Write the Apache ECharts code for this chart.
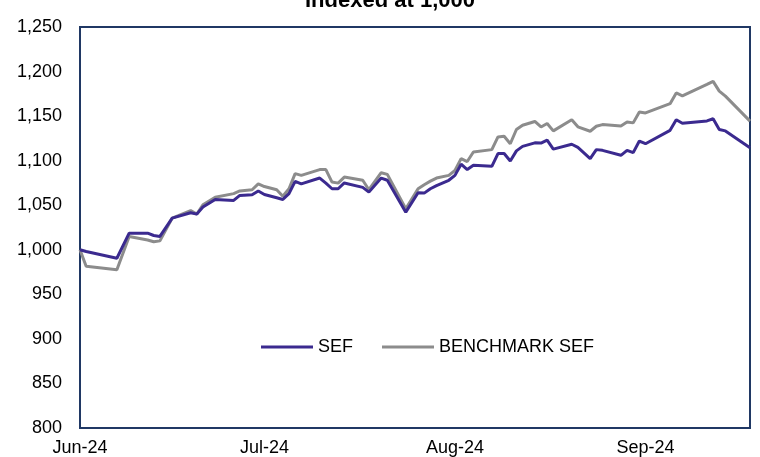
<!DOCTYPE html>
<html>
<head>
<meta charset="utf-8">
<script src="https://cdn.jsdelivr.net/npm/echarts@6/dist/echarts.min.js"></script>
<style>html,body{margin:0;padding:0;background:#fff}#c{width:760px;height:457px}</style>
</head>
<body>
<div id="c"></div>
<script>
// Days since 3 Jun 2024 (x positions of data points)
var dayOffsets = [0,1,6,8,11,12,13,15,18,19,20,22,25,26,28,29,30,32,33,34,35,36,39,40,41,42,43,46,47,49,50,53,55,56,57,58,60,61,62,63,64,67,68,69,70,71,72,74,75,76,77,80,81,83,84,85,88,89,90,91,92,96,97,98,102,103,104,105,109];
var sef = [1000,998,990.5,1018.6,1018.6,1016,1015,1035.5,1041.5,1040,1048,1056.5,1055.4,1061,1061.8,1066,1062,1058.4,1056.5,1063,1076.8,1074,1080.5,1074.8,1068.5,1068.5,1075,1070,1064.7,1080.5,1078,1042.2,1064,1063.6,1068.5,1072,1078,1083.5,1096,1090,1094.8,1093.6,1108,1108,1099.6,1111,1116,1120,1119.8,1123,1113,1118.4,1115,1102.3,1112.4,1111.6,1106,1111.6,1109,1122,1119,1134,1146,1142,1144.6,1147,1135,1133.4,1114.6];
var benchmarkSef = [1000,981.5,977.7,1015,1011,1009,1010,1035.5,1044,1040,1050.5,1059,1063,1066,1067.4,1074,1071,1067.4,1060,1068.5,1085.4,1083.5,1090,1090,1076,1074.8,1081.6,1078,1067.4,1086.5,1084.6,1046,1068.5,1073,1077,1080.5,1083.5,1089,1102.3,1099,1109.7,1112.4,1126.6,1127.4,1119,1135,1139.8,1144,1137.8,1141.7,1133.4,1146,1138,1133,1138.6,1140.5,1139,1143.5,1142.4,1154.7,1153.6,1164,1176,1172.7,1185.6,1189,1178,1172.4,1144.4];
var tickDays = [0,30,61,92];
var tickLabels = ['Jun-24','Jul-24','Aug-24','Sep-24'];
var seriesNames = ['SEF','BENCHMARK SEF'];
var titleText = 'Indexed at 1,000 \u00B9';

function pairs(vals){ return dayOffsets.map(function(d,i){ return [d, vals[i]]; }); }

var FONT = "'Liberation Sans', Arial, sans-serif";
var chart = echarts.init(document.getElementById('c'), null, {renderer:'canvas'});
chart.setOption({
  animation:false,
  textStyle:{fontFamily:FONT},
  title:{text:titleText,left:300,top:-15,textStyle:{fontFamily:FONT,fontSize:22,fontWeight:'bold',color:'#000'}},
  grid:{left:80,right:10,top:27,bottom:29,show:true,borderColor:'#203864',borderWidth:2,backgroundColor:'transparent',containLabel:false},
  legend:{data:seriesNames,left:256,top:333,icon:'rect',itemWidth:52,itemHeight:3,itemGap:29,
    textStyle:{fontFamily:FONT,fontSize:18,color:'#000'}},
  xAxis:{type:'value',min:0,max:109,
    axisLine:{show:false},axisTick:{show:false},splitLine:{show:false},
    axisLabel:{customValues:tickDays,showMinLabel:true,showMaxLabel:true,hideOverlap:false,margin:11,fontFamily:FONT,fontSize:18,color:'#000',
      formatter:function(v){var i=tickDays.indexOf(v);return i>=0?tickLabels[i]:'';}}},
  yAxis:{type:'value',min:800,max:1250,interval:50,
    axisLine:{show:false},axisTick:{show:false},splitLine:{show:false},
    axisLabel:{margin:18,fontFamily:FONT,fontSize:18,color:'#000',
      formatter:function(v){return v.toLocaleString('en-US');}}},
  series:[
    {name:seriesNames[0],type:'line',data:pairs(sef),showSymbol:false,symbol:'none',z:3,
      lineStyle:{color:'#3B2A8F',width:3},itemStyle:{color:'#3B2A8F'}},
    {name:seriesNames[1],type:'line',data:pairs(benchmarkSef),showSymbol:false,symbol:'none',z:2,
      lineStyle:{color:'#8C8C8C',width:3},itemStyle:{color:'#8C8C8C'}}
  ]
});
</script>
</body>
</html>
